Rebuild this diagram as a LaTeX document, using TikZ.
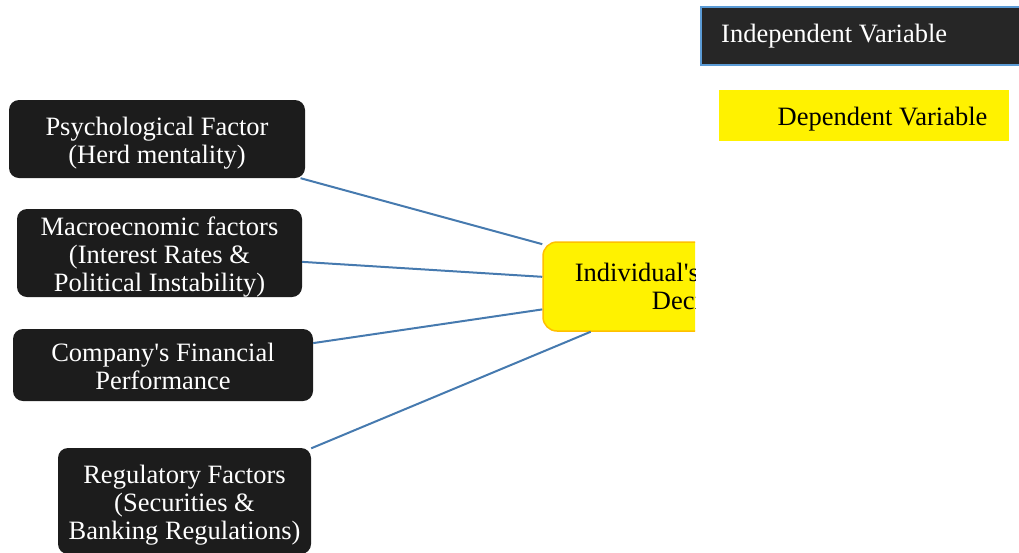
\documentclass[tikz,border=0pt]{standalone}
\usepackage{fontspec}
\setmainfont{Liberation Serif}
\usepackage{xcolor}
\usetikzlibrary{positioning}
\definecolor{boxdark}{RGB}{28,28,28}
\definecolor{legdark}{RGB}{38,38,38}
\definecolor{linkblue}{RGB}{70,122,175}
\definecolor{legblue}{RGB}{91,155,213}
\definecolor{depborder}{RGB}{255,192,0}
\newcommand{\boxlines}[1]{\raisebox{-4.5pt}[\height][\depth]{\begin{tabular}{@{}c@{}}#1\end{tabular}}}
\tikzset{
  factor/.style={draw=none, fill=boxdark, rounded corners=10pt, text=white,
    align=center, inner sep=0pt, font=\fontsize{26.5}{28}\selectfont},
  target/.style={draw=depborder, line width=1.5pt, fill=yellow, rounded corners=14pt,
    align=center, inner sep=0pt, font=\fontsize{26.5}{28}\selectfont},
  link/.style={draw=linkblue, line width=2pt},
  legtext/.style={inner sep=0pt, font=\fontsize{26.5}{28}\selectfont}
}
\begin{document}
\begin{tikzpicture}[x=1pt, y=-1pt]
\useasboundingbox (0,0) rectangle (1019,552);
\begin{scope}
\clip (0,0) rectangle (695,552);
\node[target, minimum width=312pt, minimum height=89pt] (D) at (699,286.5) {Individual\textquotesingle s Investment\\Decision};
\end{scope}
\node[factor, minimum width=296pt, minimum height=78pt] (P) at (157,139) {\boxlines{Psychological Factor\\(Herd mentality)}};
\node[factor, minimum width=285pt, minimum height=88pt] (M) at (159.5,253) {\boxlines{Macroecnomic factors\\(Interest Rates \&\\Political Instability)}};
\node[factor, minimum width=300pt, minimum height=72pt] (C) at (163,365) {\boxlines{Company\textquotesingle s Financial\\Performance}};
\node[factor, minimum width=253pt, minimum height=106pt] (R) at (184.5,501) {\boxlines{Regulatory Factors\\(Securities \&\\Banking Regulations)}};
\draw[link] (P) -- (D);
\draw[link] (M) -- (D);
\draw[link] (C) -- (D);
\draw[link] (R) -- (D);
% legend
\draw[fill=legdark, draw=legblue, line width=2pt] (701,7) rectangle (1022,65);
\node[legtext, text=white, anchor=west] (IV) at (721,36) {Independent Variable};
\fill[yellow] (719,90) rectangle (1009,141);
\node[legtext] (DV) at (882.5,119) {Dependent Variable};
\end{tikzpicture}
\end{document}
